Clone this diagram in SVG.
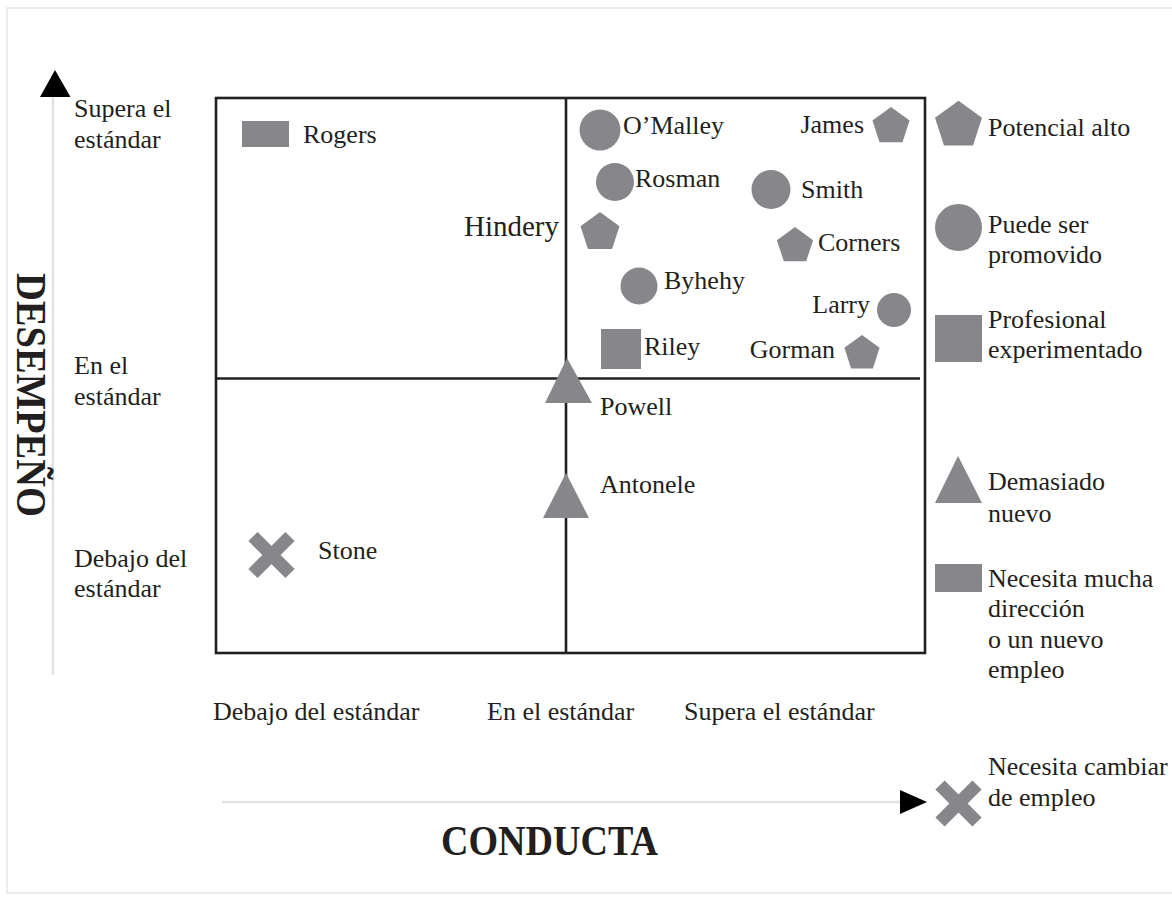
<svg xmlns="http://www.w3.org/2000/svg" xmlns:xlink="http://www.w3.org/1999/xlink" width="1172" height="899" viewBox="0 0 1172 899">
<style>
  .t { font-family: "Liberation Serif", "Times New Roman", serif; font-size: 26px; fill: #231f20; }
  .b { font-family: "Liberation Serif", "Times New Roman", serif; font-weight: bold; font-size: 42px; fill: #231f20; }
  .sh { fill: #87878b; }
  .ln { stroke: #231f20; stroke-width: 2.6; fill: none; }
  .ax { stroke: #e2e2e2; stroke-width: 2.5; fill: none; }
  .xm { stroke: #87878b; stroke-width: 13; stroke-linecap: butt; }
</style>
<defs>
  <path id="pent" d="M0,-20 L19.02,-6.18 L11.76,16.18 L-11.76,16.18 L-19.02,-6.18 Z"/>
  <g id="xx"><line x1="-18.5" y1="-18.5" x2="18.5" y2="18.5"/><line x1="18.5" y1="-18.5" x2="-18.5" y2="18.5"/></g>
</defs>
<rect width="1172" height="899" fill="#ffffff"/>
<rect x="7" y="8" width="1180" height="885" fill="none" stroke="#ececec" stroke-width="2"/>

<g id="axes">
  <line class="ax" x1="53" y1="96" x2="53" y2="675"/>
  <path d="M55,70 L70.5,97 L40,97 Z" fill="#000"/>
  <line class="ax" x1="222" y1="802" x2="902" y2="802"/>
  <path d="M927,802 L900,790 L900,814 Z" fill="#000"/>
  <text class="b" transform="translate(17,273) rotate(90)" textLength="244" lengthAdjust="spacingAndGlyphs">DESEMPEÑO</text>
  <text class="b" x="441" y="855" textLength="217" lengthAdjust="spacingAndGlyphs">CONDUCTA</text>
  <text class="t" x="74" y="117">Supera el</text>
  <text class="t" x="74" y="148">estándar</text>
  <text class="t" x="74" y="374">En el</text>
  <text class="t" x="74" y="405">estándar</text>
  <text class="t" x="74" y="567">Debajo del</text>
  <text class="t" x="74" y="597">estándar</text>
  <text class="t" x="213" y="720">Debajo del estándar</text>
  <text class="t" x="487" y="720">En el estándar</text>
  <text class="t" x="684" y="720">Supera el estándar</text>
</g>

<g id="connectors">
  <rect class="ln" x="216" y="98" width="709" height="555"/>
  <line class="ln" x1="566" y1="98" x2="566" y2="653"/>
  <line class="ln" x1="216" y1="378.5" x2="920" y2="378.5"/>
</g>

<g id="rogers"><rect class="sh" x="242" y="121" width="47" height="26"/><text class="t" x="303" y="143">Rogers</text></g>
<g id="omalley"><circle class="sh" cx="600" cy="130" r="20.5"/><text class="t" x="623" y="134">O’Malley</text></g>
<g id="james"><use xlink:href="#pent" class="sh" transform="translate(891,126.5) scale(0.975)"/><text class="t" x="864" y="133" text-anchor="end">James</text></g>
<g id="rosman"><circle class="sh" cx="615" cy="182" r="19"/><text class="t" x="635" y="187">Rosman</text></g>
<g id="smith"><circle class="sh" cx="771" cy="189.5" r="19.5"/><text class="t" x="801" y="198">Smith</text></g>
<g id="hindery"><use xlink:href="#pent" class="sh" transform="translate(600,232.5) scale(1.025)"/><text class="t" x="559" y="236" text-anchor="end" style="font-size:29px">Hindery</text></g>
<g id="corners"><use xlink:href="#pent" class="sh" transform="translate(795,246) scale(0.95)"/><text class="t" x="818" y="251">Corners</text></g>
<g id="byhehy"><circle class="sh" cx="639" cy="286" r="18.5"/><text class="t" x="664" y="289">Byhehy</text></g>
<g id="larry"><circle class="sh" cx="894" cy="310" r="17"/><text class="t" x="870" y="313" text-anchor="end">Larry</text></g>
<g id="riley"><rect class="sh" x="601" y="329" width="40" height="40"/><text class="t" x="644" y="355">Riley</text></g>
<g id="gorman"><use xlink:href="#pent" class="sh" transform="translate(862,353.5) scale(0.925)"/><text class="t" x="835" y="358" text-anchor="end">Gorman</text></g>
<g id="powell"><path class="sh" d="M567,358 L592,403 L545,403 Z"/><text class="t" x="600" y="415">Powell</text></g>
<g id="antonele"><path class="sh" d="M566,473 L589,518 L543,518 Z"/><text class="t" x="600" y="493">Antonele</text></g>
<g id="stone"><use xlink:href="#xx" class="xm" transform="translate(271.5,555)"/><text class="t" x="318" y="559">Stone</text></g>

<g id="legend-potencial"><use xlink:href="#pent" class="sh" transform="translate(958.5,125.5) scale(1.235)"/><text class="t" x="988" y="136">Potencial alto</text></g>
<g id="legend-promovido"><circle class="sh" cx="958.5" cy="227.5" r="23.5"/><text class="t" x="988" y="233">Puede ser</text><text class="t" x="988" y="263">promovido</text></g>
<g id="legend-profesional"><rect class="sh" x="935" y="315" width="47" height="47"/><text class="t" x="988" y="328">Profesional</text><text class="t" x="988" y="358">experimentado</text></g>
<g id="legend-nuevo"><path class="sh" d="M958,456 L982,503 L935,503 Z"/><text class="t" x="988" y="490">Demasiado</text><text class="t" x="988" y="522">nuevo</text></g>
<g id="legend-direccion"><rect class="sh" x="935" y="564" width="47" height="28"/><text class="t" x="988" y="587">Necesita mucha</text><text class="t" x="988" y="617">dirección</text><text class="t" x="988" y="648">o un nuevo</text><text class="t" x="988" y="678">empleo</text></g>
<g id="legend-cambiar"><use xlink:href="#xx" class="xm" transform="translate(958.5,803.5)"/><text class="t" x="988" y="775">Necesita cambiar</text><text class="t" x="988" y="806">de empleo</text></g>
</svg>
